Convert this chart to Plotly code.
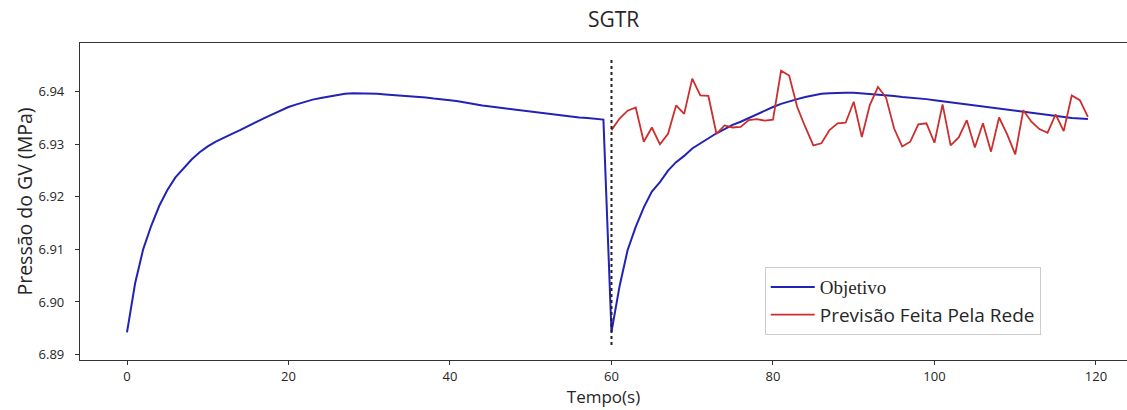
import plotly.graph_objects as go

# ---- data ----
t_obj = list(range(0, 120))
obj_first = [6.8942, 6.9035, 6.9100, 6.9145, 6.9183, 6.9213, 6.9237, 6.9255, 6.9271, 6.9285,
             6.9296, 6.9305, 6.9313, 6.9320, 6.9327, 6.9335, 6.9343, 6.9350, 6.9357, 6.9364,
             6.9371, 6.9376, 6.9381, 6.9385, 6.9388, 6.9391, 6.9394, 6.9396, 6.9397, 6.9397,
             6.9397, 6.9396, 6.9395, 6.9394, 6.9392, 6.9391, 6.9390, 6.9389, 6.9387, 6.9386,
             6.9384, 6.9382, 6.9379, 6.9377, 6.9374, 6.9372, 6.9370, 6.9368, 6.9366, 6.9364,
             6.9362, 6.9360, 6.9358, 6.9356, 6.9354, 6.9352, 6.9351, 6.9350, 6.9348, 6.9347]
obj_second = [6.8943, 6.9030, 6.9099, 6.9143, 6.9180, 6.9210, 6.9228, 6.9250, 6.9266, 6.9278,
              6.9292, 6.9302, 6.9312, 6.9321, 6.9329, 6.9337, 6.9343, 6.9350, 6.9358, 6.9365,
              6.9371, 6.9377, 6.9382, 6.9386, 6.9390, 6.9393, 6.9396, 6.9397, 6.9398, 6.9398,
              6.9398, 6.9397, 6.9396, 6.9395, 6.9393, 6.9392, 6.9390, 6.9389, 6.9387, 6.9386,
              6.9384, 6.9382, 6.9380, 6.9378, 6.9376, 6.9374, 6.9372, 6.9370, 6.9368, 6.9366,
              6.9363, 6.9362, 6.9360, 6.9358, 6.9356, 6.9354, 6.9352, 6.9350, 6.9349, 6.9348]
objetivo = obj_first + obj_second

t_prev = list(range(60, 120))
previsao = [6.9327, 6.9349, 6.9364, 6.9370, 6.9305, 6.9332, 6.9300, 6.9320, 6.9374, 6.9358,
            6.9425, 6.9393, 6.9392, 6.9320, 6.9336, 6.9332, 6.9333, 6.9346, 6.9348, 6.9345,
            6.9347, 6.9440, 6.9431, 6.9371, 6.9333, 6.9298, 6.9302, 6.9327, 6.9340, 6.9341,
            6.9381, 6.9314, 6.9375, 6.9409, 6.9389, 6.9330, 6.9296, 6.9305, 6.9338, 6.9340,
            6.9303, 6.9376, 6.9298, 6.9313, 6.9346, 6.9294, 6.9340, 6.9286, 6.9351, 6.9319,
            6.9281, 6.9365, 6.9343, 6.9329, 6.9322, 6.9357, 6.9325, 6.9393, 6.9384, 6.9352]

vline_x = [60, 60]
vline_y = [6.8918, 6.9462]

x_ticks = [0, 20, 40, 60, 80, 100, 120]
y_ticks = [6.89, 6.90, 6.91, 6.92, 6.93, 6.94]
y_tick_text = ["6.89", "6.90", "6.91", "6.92", "6.93", "6.94"]

FONT = "Open Sans"

fig = go.Figure()
fig.add_trace(go.Scatter(
    x=t_obj, y=objetivo, mode="lines",
    name='<span style="font-family:Liberation Serif">Objetivo</span>',
    line=dict(color="#2222b5", width=2),
))
fig.add_trace(go.Scatter(
    x=t_prev, y=previsao, mode="lines",
    name="Previsão Feita Pela Rede",
    line=dict(color="#cc2e2e", width=1.8),
))
fig.add_trace(go.Scatter(
    x=vline_x, y=vline_y, mode="lines", showlegend=False,
    line=dict(color="#222222", width=2, dash="dot"),
    hoverinfo="skip",
))

fig.update_layout(
    width=1127, height=410,
    margin=dict(l=80, r=0, t=43, b=50),
    paper_bgcolor="white", plot_bgcolor="white",
    font=dict(family=FONT, color="#262626", size=13),
    title=dict(text="SGTR", x=0.5445, xanchor="center", y=0.952, yanchor="middle",
               font=dict(family=FONT, size=21, color="#262626")),
    showlegend=True,
    legend=dict(
        x=0.654, y=0.293, xanchor="left", yanchor="top",
        bgcolor="white", bordercolor="#cccccc", borderwidth=1,
        font=dict(family=FONT, size=19, color="#262626"),
        itemwidth=44,
        tracegroupgap=0,
    ),
)
fig.update_xaxes(
    range=[-5.82, 123.84],
    tickvals=x_ticks, ticktext=[str(v) for v in x_ticks],
    showgrid=False, zeroline=False,
    showline=True, linecolor="#333333", linewidth=1.2, mirror=True,
    ticks="outside", ticklen=4, tickcolor="#333333",
    tickfont=dict(size=13),
    title=dict(text="Tempo(s)", font=dict(size=17), standoff=6),
)
fig.update_yaxes(
    range=[6.88895, 6.94928],
    tickvals=y_ticks, ticktext=y_tick_text,
    showgrid=False, zeroline=False,
    showline=True, linecolor="#333333", linewidth=1.2, mirror=False,
    ticks="outside", ticklen=4, tickcolor="#333333",
    tickfont=dict(size=13), ticklabelstandoff=8,
    title=dict(text="Pressão do GV (MPa)", font=dict(size=19.5), standoff=0),
)

fig.write_html("out.html")
